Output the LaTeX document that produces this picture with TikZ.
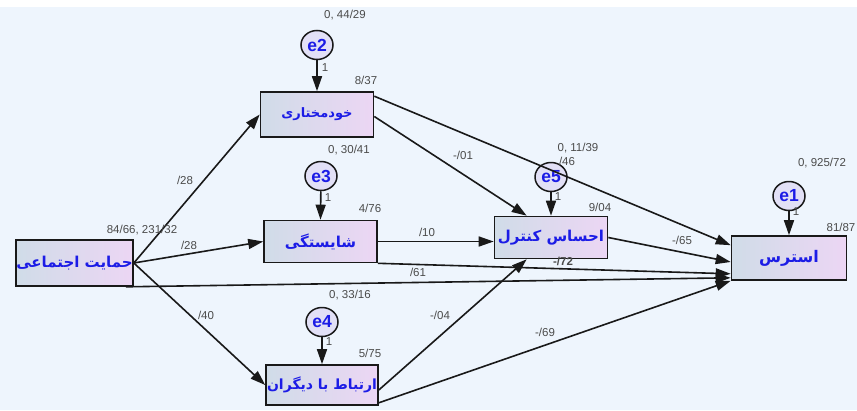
\documentclass[tikz,border=0pt]{standalone}
\usepackage{fontspec}
\setmainfont{Liberation Sans}
\newfontfamily\fa[Script=Arabic,BoldFont={DejaVu Sans Bold}]{DejaVu Sans}
\TeXXeTstate=1
\usetikzlibrary{arrows.meta,shapes.geometric}
\definecolor{bgblue}{RGB}{238,245,253}
\definecolor{boxL}{RGB}{208,220,232}
\definecolor{boxR}{RGB}{236,214,244}
\definecolor{circfill}{RGB}{226,224,246}
\definecolor{txtblue}{RGB}{28,28,230}
\definecolor{labgray}{RGB}{75,75,75}
\definecolor{edgecol}{RGB}{25,25,25}
\tikzset{
  box/.style={draw=edgecol, line width=1.6pt, left color=boxL, right color=boxR,
    inner sep=0pt, text=txtblue},
  errnode/.style={ellipse, draw=edgecol, line width=1.5pt, fill=circfill,
    minimum width=32pt, minimum height=29pt, inner sep=0pt, text=txtblue,
    font=\bfseries\fontsize{17.5}{18}\selectfont},
  lab/.style={inner sep=0pt, text=labgray, font=\fontsize{11.5}{13}\selectfont},
  arr/.style={draw=edgecol, line width=1.6pt, -{Triangle[length=15pt,width=10pt]}},
}
\begin{document}
\begin{tikzpicture}[x=1pt,y=-1pt]
\fill[white] (0,0) rectangle (857,410);
\fill[bgblue] (0,7) rectangle (857,410);
\useasboundingbox (0,0) rectangle (857,410);

% boxes
\node[box, minimum width=117pt, minimum height=46pt,
  font=\fa\bfseries\fontsize{15}{17}\selectfont] (soc) at (74.5,263) {\beginR حمایت اجتماعی\endR};
\node[box, minimum width=113pt, minimum height=45pt,
  font=\fa\bfseries\fontsize{13}{15}\selectfont] (auto) at (317,114.5) {\beginR خودمختاری\endR};
\node[box, minimum width=113pt, minimum height=42pt,
  font=\fa\bfseries\fontsize{15}{17}\selectfont] (comp) at (320.5,241.5) {\beginR شایستگی\endR};
\node[box, minimum width=112pt, minimum height=40pt,
  font=\fa\bfseries\fontsize{14}{16}\selectfont] (rel) at (322,385) {\beginR ارتباط با دیگران\endR};
\node[box, minimum width=113pt, minimum height=42pt,
  font=\fa\bfseries\fontsize{15}{17}\selectfont] (ctrl) at (551,237.5) {\beginR احساس کنترل\endR};
\node[box, minimum width=115pt, minimum height=44pt,
  font=\fa\bfseries\fontsize{16}{18}\selectfont] (stress) at (789,258) {\beginR استرس\endR};

% error terms
\node[errnode] (e2) at (317,45) {e2};
\node[errnode] (e3) at (321,176) {e3};
\node[errnode] (e4) at (322,322) {e4};
\node[errnode] (e5) at (551,177) {e5};
\node[errnode] (e1) at (789,196) {e1};

% connectors
\draw[arr] (soc.east) -- (auto.west);
\draw[arr] (soc.east) -- (comp.west);
\draw[arr] (soc.east) -- (rel.west);
\draw[arr] ([xshift=-8pt]soc.south east) -- ([yshift=3pt]stress.south west);
\draw[arr] ([yshift=-5pt]auto.north east) -- ([yshift=-10pt]stress.north west);
\draw[arr] ([yshift=-2pt]auto.east) -- ([xshift=33pt]ctrl.north west);
\draw[arr] (comp.east) -- ([yshift=-4pt]ctrl.west);
\draw[arr] (comp.south east) -- ([yshift=7pt]stress.south west);
\draw[arr] ([yshift=-5pt]rel.east) -- ([xshift=33pt]ctrl.south west);
\draw[arr] ([yshift=3pt]rel.south east) -- (stress.south west);
\draw[arr] (ctrl.east) -- ([yshift=-4pt]stress.west);
\draw[arr] (e2) -- (auto.north);
\draw[arr] (e3) -- (comp.north);
\draw[arr] (e4) -- (rel.north);
\draw[arr] (e5) -- (ctrl.north);
\draw[arr] (e1) -- (stress.north);

% labels
\node[lab] (l1) at (345,15) {0, 44/29};
\node[lab] (l2) at (366,80) {8/37};
\node[lab] (l3) at (325,68) {1};
\node[lab] (l4) at (349,150) {0, 30/41};
\node[lab] (l5) at (370,208) {4/76};
\node[lab] (l6) at (328,198) {1};
\node[lab] (l7) at (350,295) {0, 33/16};
\node[lab] (l8) at (370,353) {5/75};
\node[lab] (l9) at (329,342) {1};
\node[lab] (l10) at (578,148) {0, 11/39};
\node[lab] (l11) at (567,161) {/46};
\node[lab] (l12) at (558,197) {1};
\node[lab] (l13) at (600,207) {9/04};
\node[lab] (l14) at (822,163) {0, 925/72};
\node[lab] (l15) at (841,227) {81/87};
\node[lab] (l16) at (796,212) {1};
\node[lab] (l17) at (142,230) {84/66, 231/32};
\node[lab] (l18) at (189,245) {/28};
\node[lab] (l19) at (185,180) {/28};
\node[lab] (l20) at (206,315) {/40};
\node[lab] (l21) at (463,155) {-/01};
\node[lab] (l22) at (427,232) {/10};
\node[lab] (l23) at (418,272) {/61};
\node[lab, font=\bfseries\fontsize{11.5}{13}\selectfont] (l24) at (563,261) {-/72};
\node[lab] (l25) at (682,240) {-/65};
\node[lab] (l26) at (440,315) {-/04};
\node[lab] (l27) at (545,332) {-/69};
\end{tikzpicture}
\end{document}
